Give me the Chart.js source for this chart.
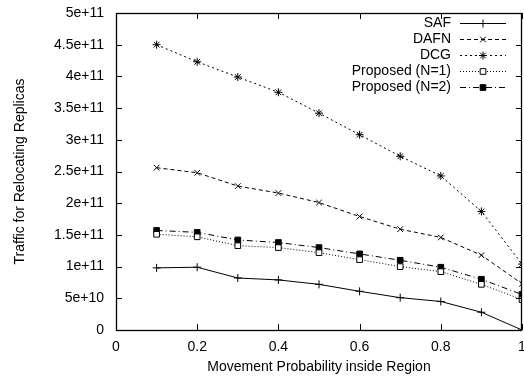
<!DOCTYPE html>
<html>
<head>
<meta charset="utf-8">
<script src="https://cdn.jsdelivr.net/npm/chart.js@4.4.1/dist/chart.umd.min.js"></script>
<style>
  html, body { margin: 0; padding: 0; background: #fff; }
  #wrap { width: 524px; height: 376px; position: relative; }
</style>
</head>
<body>
<div id="wrap"><canvas id="chart" width="524" height="376"></canvas></div>
<script>
// dane
const probs = [0.1, 0.2, 0.3, 0.4, 0.5, 0.6, 0.7, 0.8, 0.9, 1.0];
const safVals = [9.8e10, 9.9e10, 8.2e10, 7.9e10, 7.2e10, 6.1e10, 5.1e10, 4.5e10, 2.8e10, 0];
const dafnVals = [2.56e11, 2.48e11, 2.27e11, 2.16e11, 2.01e11, 1.79e11, 1.59e11, 1.46e11, 1.18e11, 7.3e10];
const dcgVals = [4.5e11, 4.23e11, 3.99e11, 3.75e11, 3.42e11, 3.08e11, 2.74e11, 2.43e11, 1.87e11, 1.04e11];
const prop1Vals = [1.51e11, 1.47e11, 1.33e11, 1.30e11, 1.22e11, 1.11e11, 1.00e11, 0.92e11, 0.72e11, 0.48e11];
const prop2Vals = [1.57e11, 1.54e11, 1.42e11, 1.38e11, 1.30e11, 1.20e11, 1.10e11, 0.99e11, 0.80e11, 0.56e11];
const seriesNames = ['SAF', 'DAFN', 'DCG', 'Proposed (N=1)', 'Proposed (N=2)'];

const FONT = 'Liberation Sans, Arial, Helvetica, sans-serif';

function toPoints(vals) {
    return vals.map((v, i) => ({ x: probs[i], y: v }));
}

function makeSet(label, vals, dash, style, fill, radius) {
    return {
        label: label,
        data: toPoints(vals),
        borderColor: '#000',
        borderWidth: 1,
        borderDash: dash,
        pointStyle: style,
        pointRadius: radius,
        pointBorderColor: '#000',
        pointBorderWidth: 1,
        pointBackgroundColor: fill,
        fill: false,
        tension: 0
    };
}

const fmtX = v => String(parseFloat(v.toFixed(1)));
const fmtY = v => v === 0 ? '0' : Number(v).toExponential();

// Ramka, ticki do środka (styl gnuplot) i etykiety osi
const framePlugin = {
    id: 'frame',
    afterDatasetsDraw(chart) {
        const { ctx, chartArea: a, scales } = chart;
        ctx.save();
        ctx.strokeStyle = '#000';
        ctx.lineWidth = 1;
        ctx.beginPath();
        const len = 6;
        scales.x.ticks.forEach(t => {
            const px = Math.round(scales.x.getPixelForValue(t.value)) + 0.5;
            ctx.moveTo(px, a.bottom); ctx.lineTo(px, a.bottom - len);
            ctx.moveTo(px, a.top); ctx.lineTo(px, a.top + len);
        });
        scales.y.ticks.forEach(t => {
            const py = Math.round(scales.y.getPixelForValue(t.value)) + 0.5;
            ctx.moveTo(a.left, py); ctx.lineTo(a.left + len, py);
            ctx.moveTo(a.right, py); ctx.lineTo(a.right - len, py);
        });
        ctx.stroke();
        ctx.lineWidth = 1.3;
        ctx.strokeRect(Math.round(a.left) + 0.5, Math.round(a.top) + 0.5,
            Math.round(a.right - a.left) - 1, Math.round(a.bottom - a.top));

        // etykiety rysowane ręcznie, żeby nie dodawały marginesów
        ctx.font = '14px ' + FONT;
        ctx.fillStyle = '#000';
        ctx.textBaseline = 'middle';
        ctx.textAlign = 'center';
        scales.x.ticks.forEach(t => {
            ctx.fillText(fmtX(t.value), scales.x.getPixelForValue(t.value), a.bottom + 17);
        });
        ctx.textAlign = 'right';
        scales.y.ticks.forEach(t => {
            ctx.fillText(fmtY(t.value), a.left - 12, scales.y.getPixelForValue(t.value));
        });
        ctx.restore();
    }
};

// Legenda w prawym górnym rogu: tekst wyrównany do prawej, próbka linii po prawej
const legendPlugin = {
    id: 'gpLegend',
    afterDraw(chart) {
        const ctx = chart.ctx;
        const top = chart.chartArea.top;
        ctx.save();
        ctx.font = '14px ' + FONT;
        ctx.fillStyle = '#000';
        ctx.textAlign = 'right';
        ctx.textBaseline = 'middle';
        chart.data.datasets.forEach((ds, i) => {
            const y = top + 10 + i * 16;
            ctx.fillText(ds.label, 451, y);
            ctx.beginPath();
            ctx.setLineDash(ds.borderDash || []);
            ctx.lineWidth = 1;
            ctx.strokeStyle = '#000';
            ctx.moveTo(460, y + 0.5);
            ctx.lineTo(506, y + 0.5);
            ctx.stroke();
            ctx.setLineDash([]);
            ctx.fillStyle = ds.pointBackgroundColor;
            Chart.helpers.drawPoint(ctx, {
                pointStyle: ds.pointStyle,
                radius: ds.pointRadius,
                rotation: 0,
                borderWidth: 1
            }, 483, y + 0.5);
            ctx.fillStyle = '#000';
        });
        ctx.restore();
    }
};

const ctx = document.getElementById('chart').getContext('2d');
new Chart(ctx, {
    type: 'line',
    data: {
        datasets: [
            makeSet(seriesNames[0], safVals, [], 'cross', '#000', 4),
            makeSet(seriesNames[1], dafnVals, [4, 3], 'crossRot', '#000', 4),
            makeSet(seriesNames[2], dcgVals, [2, 3], 'star', '#000', 4),
            makeSet(seriesNames[3], prop1Vals, [1, 2], 'rect', '#fff', 4),
            makeSet(seriesNames[4], prop2Vals, [6, 3, 1, 3], 'rect', '#000', 4)
        ]
    },
    options: {
        responsive: false,
        animation: false,
        events: [],
        layout: { autoPadding: false, padding: { left: 0, top: 13, right: 2, bottom: 0 } },
        plugins: { legend: { display: false }, tooltip: { enabled: false } },
        scales: {
            x: {
                type: 'linear',
                min: 0,
                max: 1,
                grid: { display: false },
                border: { display: false },
                ticks: {
                    display: false,
                    stepSize: 0.2,
                    callback: fmtX
                },
                title: {
                    display: true,
                    text: 'Movement Probability inside Region',
                    color: '#000',
                    font: { family: FONT, size: 14 },
                    padding: { top: 0, bottom: 0 }
                },
                afterFit: s => { s.height = 46; }
            },
            y: {
                min: 0,
                max: 5e11,
                grid: { display: false },
                border: { display: false },
                ticks: {
                    display: false,
                    stepSize: 5e10,
                    callback: fmtY
                },
                title: {
                    display: true,
                    text: 'Traffic for Relocating Replicas',
                    color: '#000',
                    font: { family: FONT, size: 14 },
                    padding: { top: 12, bottom: 0 }
                },
                afterFit: s => { s.width = 116; }
            }
        }
    },
    plugins: [framePlugin, legendPlugin]
});
</script>
</body>
</html>
